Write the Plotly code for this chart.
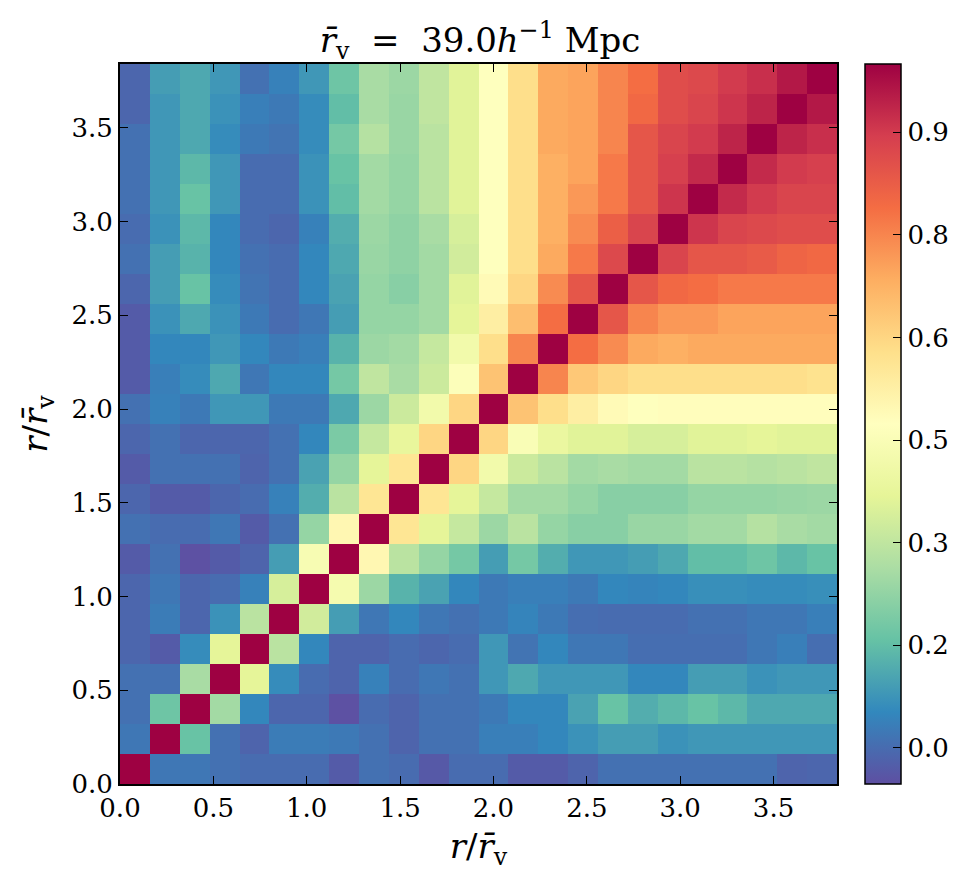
import numpy as np
import plotly.graph_objects as go

# bin centres in r / r_v (24 bins of width 0.16 from 0 to 3.84)
n_bins = 24
bin_width = 0.16
centers = [(k + 0.5) * bin_width for k in range(n_bins)]

# correlation matrix, row = y bin (bottom to top), col = x bin
corr = [
 [1.0, 0.02, 0.02, 0.01, 0.0, 0.0, 0.0, -0.03, 0.01, 0.0, -0.035, 0.0, 0.0, -0.03, -0.03, -0.015, 0.01, 0.01, 0.01, 0.01, 0.01, 0.01, -0.015, -0.01],
 [0.02, 1.0, 0.16, 0.01, -0.015, 0.03, 0.03, 0.025, 0.01, -0.015, 0.01, 0.01, 0.035, 0.035, 0.05, 0.07, 0.09, 0.09, 0.07, 0.08, 0.08, 0.08, 0.08, 0.08],
 [0.01, 0.17, 1.0, 0.25, 0.05, -0.01, -0.01, -0.05, 0.0, -0.015, 0.01, 0.01, 0.025, 0.05, 0.05, 0.1, 0.16, 0.12, 0.14, 0.16, 0.14, 0.11, 0.11, 0.11],
 [0.01, 0.01, 0.26, 1.0, 0.37, 0.06, 0.0, -0.015, 0.04, 0.0, 0.02, 0.01, 0.08, 0.11, 0.08, 0.08, 0.08, 0.05, 0.05, 0.09, 0.09, 0.07, 0.08, 0.08],
 [-0.01, -0.03, 0.06, 0.37, 1.0, 0.29, 0.05, -0.015, -0.015, 0.0, -0.01, 0.0, 0.08, 0.015, 0.05, 0.02, 0.02, 0.005, 0.005, 0.005, 0.005, 0.02, 0.035, 0.005],
 [-0.01, 0.03, -0.01, 0.07, 0.29, 1.0, 0.33, 0.09, 0.02, 0.05, 0.02, 0.01, 0.025, 0.045, 0.025, 0.005, 0.0, 0.0, 0.0, 0.01, 0.01, 0.02, 0.02, 0.035],
 [-0.01, 0.02, -0.01, 0.0, 0.04, 0.34, 1.0, 0.43, 0.24, 0.13, 0.1, 0.05, 0.025, 0.035, 0.035, 0.025, 0.05, 0.045, 0.05, 0.065, 0.065, 0.06, 0.06, 0.065],
 [-0.03, 0.01, -0.05, -0.03, -0.015, 0.09, 0.44, 1.0, 0.5, 0.29, 0.23, 0.18, 0.09, 0.18, 0.12, 0.08, 0.08, 0.09, 0.11, 0.15, 0.15, 0.17, 0.14, 0.16],
 [0.01, 0.0, 0.0, 0.02, -0.03, 0.01, 0.23, 0.5, 1.0, 0.56, 0.37, 0.31, 0.24, 0.29, 0.23, 0.21, 0.21, 0.235, 0.235, 0.25, 0.25, 0.28, 0.26, 0.25],
 [-0.01, -0.03, -0.03, -0.01, 0.0, 0.04, 0.12, 0.29, 0.56, 1.0, 0.56, 0.37, 0.31, 0.25, 0.25, 0.23, 0.21, 0.21, 0.21, 0.23, 0.23, 0.23, 0.235, 0.24],
 [-0.03, 0.01, 0.01, 0.01, -0.015, 0.01, 0.1, 0.23, 0.37, 0.56, 1.0, 0.6, 0.42, 0.32, 0.29, 0.25, 0.26, 0.25, 0.25, 0.29, 0.29, 0.28, 0.29, 0.3],
 [-0.01, 0.01, -0.01, -0.01, -0.01, 0.01, 0.05, 0.19, 0.31, 0.38, 0.6, 1.0, 0.6, 0.45, 0.39, 0.36, 0.36, 0.34, 0.34, 0.36, 0.36, 0.37, 0.36, 0.36],
 [0.01, 0.04, 0.025, 0.08, 0.08, 0.025, 0.025, 0.11, 0.24, 0.32, 0.42, 0.6, 1.0, 0.64, 0.58, 0.53, 0.49, 0.47, 0.48, 0.48, 0.48, 0.48, 0.48, 0.48],
 [-0.03, 0.035, 0.06, 0.11, 0.02, 0.05, 0.05, 0.18, 0.3, 0.26, 0.32, 0.46, 0.64, 1.0, 0.75, 0.63, 0.6, 0.58, 0.58, 0.58, 0.58, 0.58, 0.58, 0.57],
 [-0.03, 0.05, 0.05, 0.08, 0.05, 0.025, 0.035, 0.13, 0.24, 0.25, 0.31, 0.42, 0.58, 0.75, 1.0, 0.79, 0.74, 0.69, 0.68, 0.69, 0.69, 0.69, 0.69, 0.69],
 [-0.03, 0.07, 0.11, 0.07, 0.025, 0.0, 0.02, 0.09, 0.23, 0.23, 0.25, 0.37, 0.53, 0.65, 0.79, 1.0, 0.84, 0.75, 0.72, 0.72, 0.7, 0.7, 0.7, 0.7],
 [-0.01, 0.09, 0.16, 0.06, 0.015, 0.0, 0.05, 0.1, 0.23, 0.21, 0.25, 0.36, 0.49, 0.6, 0.74, 0.84, 1.0, 0.84, 0.8, 0.79, 0.77, 0.77, 0.77, 0.77],
 [0.01, 0.09, 0.13, 0.05, 0.01, 0.0, 0.05, 0.11, 0.235, 0.22, 0.25, 0.33, 0.47, 0.58, 0.69, 0.77, 0.87, 1.0, 0.88, 0.84, 0.84, 0.83, 0.81, 0.8],
 [0.0, 0.07, 0.14, 0.05, 0.0, -0.01, 0.04, 0.12, 0.24, 0.22, 0.26, 0.34, 0.47, 0.58, 0.68, 0.74, 0.82, 0.88, 1.0, 0.91, 0.88, 0.87, 0.86, 0.86],
 [0.01, 0.08, 0.16, 0.08, 0.0, 0.0, 0.07, 0.15, 0.25, 0.23, 0.29, 0.36, 0.47, 0.58, 0.68, 0.72, 0.77, 0.84, 0.91, 1.0, 0.93, 0.9, 0.88, 0.88],
 [0.01, 0.08, 0.14, 0.08, 0.0, 0.0, 0.07, 0.16, 0.25, 0.23, 0.29, 0.36, 0.47, 0.58, 0.68, 0.7, 0.77, 0.84, 0.89, 0.93, 1.0, 0.93, 0.9, 0.89],
 [0.01, 0.08, 0.11, 0.06, 0.025, 0.015, 0.06, 0.18, 0.28, 0.235, 0.29, 0.36, 0.47, 0.58, 0.69, 0.7, 0.75, 0.84, 0.88, 0.9, 0.94, 1.0, 0.94, 0.92],
 [-0.01, 0.08, 0.11, 0.07, 0.035, 0.025, 0.06, 0.15, 0.26, 0.235, 0.3, 0.36, 0.47, 0.58, 0.69, 0.7, 0.75, 0.8, 0.86, 0.88, 0.91, 0.94, 1.0, 0.96],
 [-0.01, 0.09, 0.11, 0.08, 0.01, 0.04, 0.08, 0.17, 0.26, 0.24, 0.3, 0.36, 0.47, 0.58, 0.69, 0.7, 0.75, 0.79, 0.86, 0.87, 0.9, 0.92, 0.96, 1.0],
]

z_min, z_max = -0.053, 1.0
axis_ticks = [0.0, 0.5, 1.0, 1.5, 2.0, 2.5, 3.0, 3.5]
axis_ticklabels = ["0.0", "0.5", "1.0", "1.5", "2.0", "2.5", "3.0", "3.5"]
cbar_ticks = [0.0, 0.15, 0.3, 0.45, 0.6, 0.75, 0.9]
cbar_ticklabels = ["0.0", "0.2", "0.3", "0.5", "0.6", "0.8", "0.9"]

spectral_r = ["#5e4fa2", "#3288bd", "#66c2a5", "#abdda4", "#e6f598", "#ffffbf",
              "#fee08b", "#fdae61", "#f46d43", "#d53e4f", "#9e0142"]
colorscale = [[i / (len(spectral_r) - 1), c] for i, c in enumerate(spectral_r)]

FONT = "DejaVu Serif"
W, H = 970, 891
L, R, T, B = 120, 840, 64, 784
pw = R - L

fig = go.Figure(go.Heatmap(
    x=centers, y=centers, z=corr,
    zmin=z_min, zmax=z_max, colorscale=colorscale,
    colorbar=dict(
        thickness=36, thicknessmode="pixels", len=1, lenmode="fraction",
        x=(868 - L) / pw, xanchor="left", xpad=0, y=0.5, yanchor="middle", ypad=0,
        outlinecolor="black", outlinewidth=1.5,
        tickvals=cbar_ticks, ticktext=cbar_ticklabels,
        ticks="inside", ticklen=8, tickcolor="black", tickwidth=1,
        tickfont=dict(family=FONT, size=26, color="black"),
    ),
))

axis_common = dict(
    range=[0, n_bins * bin_width], tickvals=axis_ticks, ticktext=axis_ticklabels,
    ticks="inside", ticklen=8, tickwidth=1, tickcolor="black",
    showline=True, linecolor="black", linewidth=2, mirror="ticks",
    showgrid=False, zeroline=False,
    tickfont=dict(family=FONT, size=26, color="black"),
)

label = "<i>r</i>/<i>r\u0304</i><sub>v</sub>"
fig.update_xaxes(**axis_common, title=dict(text=label, font=dict(family=FONT, size=34, color="black"), standoff=12))
fig.update_yaxes(**axis_common, title=dict(text=label, font=dict(family=FONT, size=34, color="black"), standoff=14))

fig.update_layout(
    width=W, height=H,
    margin=dict(l=L, r=W - R, t=T, b=H - B, pad=0),
    paper_bgcolor="white", plot_bgcolor="white",
    title=dict(text="<i>r\u0304</i><sub>v</sub>  =  39.0<i>h</i><sup>\u22121</sup> Mpc",
               font=dict(family=FONT, size=34, color="black"),
               x=(L + pw / 2) / W, xanchor="center", y=1 - 40 / H, yanchor="middle"),
)

fig.write_html("out.html")
